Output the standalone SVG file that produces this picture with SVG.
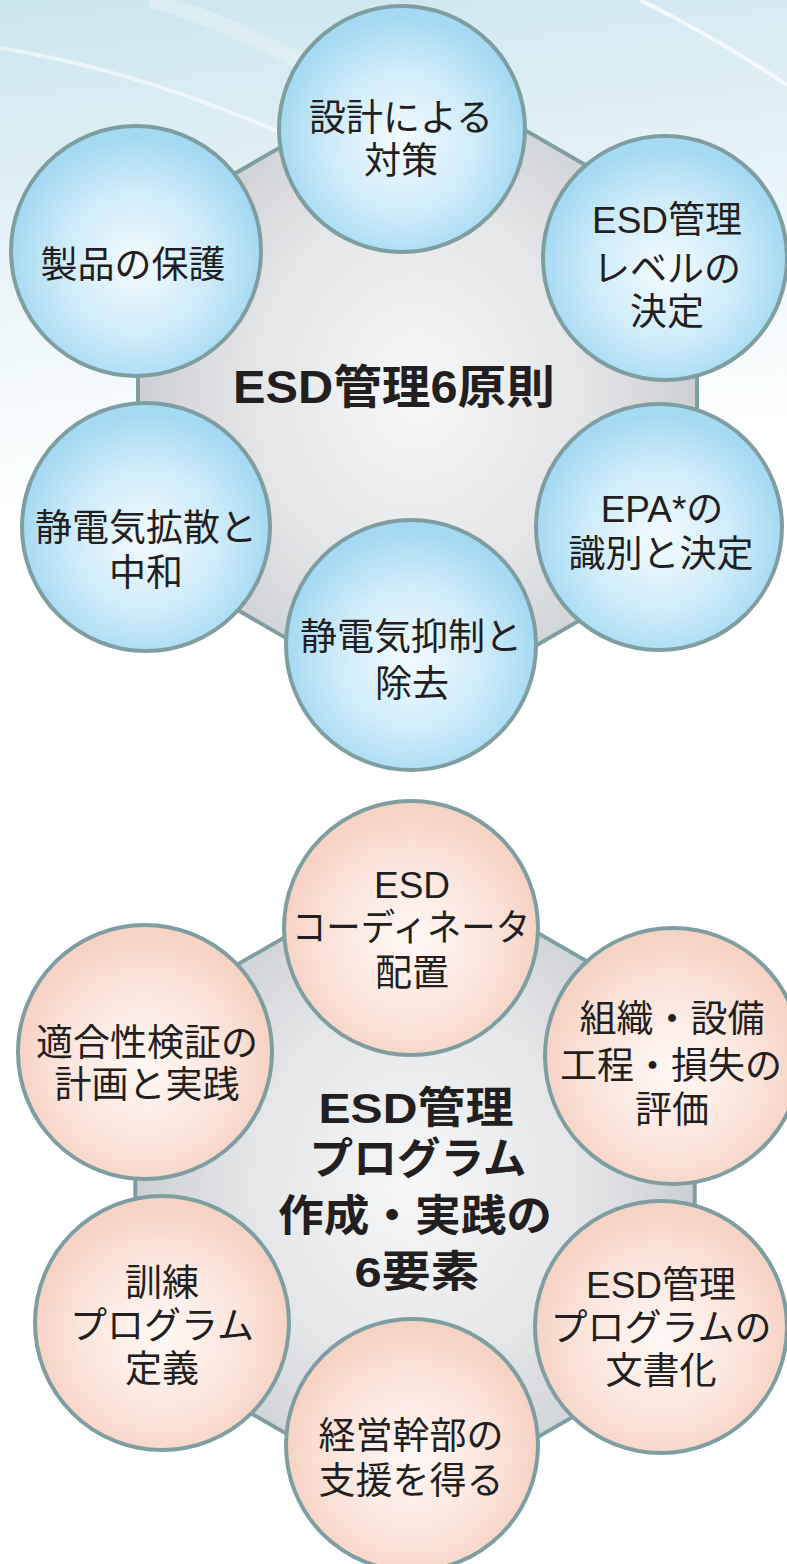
<svg xmlns="http://www.w3.org/2000/svg" width="787" height="1564" viewBox="0 0 787 1564">
<defs>
<linearGradient id="bg" gradientUnits="userSpaceOnUse" x1="0" y1="0" x2="60" y2="520">
<stop offset="0" stop-color="#cae6ee"/>
<stop offset="0.4" stop-color="#e2f1f5"/>
<stop offset="0.75" stop-color="#f4fafc"/>
<stop offset="1" stop-color="#ffffff"/>
</linearGradient>
<radialGradient id="hexg" cx="0.5" cy="0.5" r="0.5">
<stop offset="0" stop-color="#f6f7f8"/>
<stop offset="0.55" stop-color="#e6e7e9"/>
<stop offset="1" stop-color="#cdd0d3"/>
</radialGradient>
<radialGradient id="blue" cx="0.5" cy="0.55" r="0.5">
<stop offset="0" stop-color="#f3fbfe"/>
<stop offset="0.6" stop-color="#cdebf9"/>
<stop offset="1" stop-color="#a6daf3"/>
</radialGradient>
<radialGradient id="peach" cx="0.5" cy="0.55" r="0.5">
<stop offset="0" stop-color="#fff8f5"/>
<stop offset="0.6" stop-color="#fbe6dd"/>
<stop offset="1" stop-color="#f7d3c4"/>
</radialGradient>
<style>
.hex{fill:url(#hexg);stroke:#7e9ea2;stroke-width:4}
.cb{fill:url(#blue);stroke:#7e9ea2;stroke-width:4}
.cp{fill:url(#peach);stroke:#7e9ea2;stroke-width:4}
.t{font-family:"Liberation Sans","Noto Sans CJK JP",sans-serif;font-size:37px;fill:#231f20;text-anchor:middle}
.c{font-family:"Liberation Sans","Noto Sans CJK JP",sans-serif;font-weight:700;fill:#231f20;text-anchor:middle}
.s{fill:none;stroke:#ffffff}
</style>
</defs>
<g id="background">
<rect x="0" y="0" width="787" height="1564" fill="#ffffff"/>
<rect x="0" y="0" width="787" height="530" fill="url(#bg)"/>
<path class="s" d="M0,48 Q150,72 320,150" stroke-opacity="0.55" stroke-width="4"/>
<path class="s" d="M640,0 Q720,40 787,85" stroke-opacity="0.7" stroke-width="4"/>
<path class="s" d="M150,0 Q260,30 380,110" stroke-opacity="0.25" stroke-width="16"/>
</g>
<g id="connectors"></g>
<g id="principles">
<polygon id="hex1" class="hex" points="417.5,68 697,229.5 697,552.5 417.5,714 138,552.5 138,229.5"/>
<g id="p1"><circle class="cb" cx="402" cy="129" r="123"/><text class="t" x="401" y="131">設計による</text><text class="t" x="401" y="174">対策</text></g>
<g id="p2"><circle class="cb" cx="665" cy="258" r="122"/><text class="t" x="667" y="233">ESD管理</text><text class="t" x="667" y="282">レベルの</text><text class="t" x="667" y="325">決定</text></g>
<g id="p3"><circle class="cb" cx="659" cy="527" r="123"/><text class="t" x="662" y="522">EPA*の</text><text class="t" x="661" y="567">識別と決定</text></g>
<g id="p4"><circle class="cb" cx="411" cy="645" r="125"/><text class="t" x="411" y="650">静電気抑制と</text><text class="t" x="412" y="697">除去</text></g>
<g id="p5"><circle class="cb" cx="146" cy="527" r="124"/><text class="t" x="146" y="541">静電気拡散と</text><text class="t" x="146" y="586">中和</text></g>
<g id="p6"><circle class="cb" cx="136" cy="251" r="125"/><text class="t" x="133" y="278">製品の保護</text></g>
<text id="title1" class="c" x="394" y="403" font-size="46" textLength="322" lengthAdjust="spacingAndGlyphs">ESD管理6原則</text>
</g>
<g id="elements">
<polygon id="hex2" class="hex" points="415,862 694.7,1023.5 694.7,1346.5 415,1508 135.3,1346.5 135.3,1023.5"/>
<g id="e1"><circle class="cp" cx="411" cy="928" r="127"/><text class="t" x="412" y="898">ESD</text><text class="t" x="411" y="941" textLength="238" lengthAdjust="spacingAndGlyphs">コーディネータ</text><text class="t" x="412" y="986">配置</text></g>
<g id="e2"><circle class="cp" cx="673" cy="1056" r="128"/><text class="t" x="672" y="1032">組織・設備</text><text class="t" x="671" y="1079">工程・損失の</text><text class="t" x="672" y="1123">評価</text></g>
<g id="e3"><circle class="cp" cx="661" cy="1327" r="126"/><text class="t" x="661" y="1298">ESD管理</text><text class="t" x="661" y="1341">プログラムの</text><text class="t" x="661" y="1384">文書化</text></g>
<g id="e4"><circle class="cp" cx="412" cy="1445" r="126"/><text class="t" x="411" y="1449">経営幹部の</text><text class="t" x="411" y="1494">支援を得る</text></g>
<g id="e5"><circle class="cp" cx="162" cy="1323" r="127"/><text class="t" x="162" y="1296">訓練</text><text class="t" x="162" y="1339">プログラム</text><text class="t" x="162" y="1382">定義</text></g>
<g id="e6"><circle class="cp" cx="145" cy="1052" r="127"/><text class="t" x="147" y="1056">適合性検証の</text><text class="t" x="147" y="1098">計画と実践</text></g>
<g id="title2">
<text class="c" x="416" y="1123" font-size="43" textLength="195" lengthAdjust="spacingAndGlyphs">ESD管理</text>
<text class="c" x="418" y="1174" font-size="43" textLength="217" lengthAdjust="spacingAndGlyphs">プログラム</text>
<text class="c" x="415" y="1231" font-size="43" textLength="274" lengthAdjust="spacingAndGlyphs">作成・実践の</text>
<text class="c" x="417" y="1287" font-size="43" textLength="125" lengthAdjust="spacingAndGlyphs">6要素</text>
</g>
</g>
</svg>
